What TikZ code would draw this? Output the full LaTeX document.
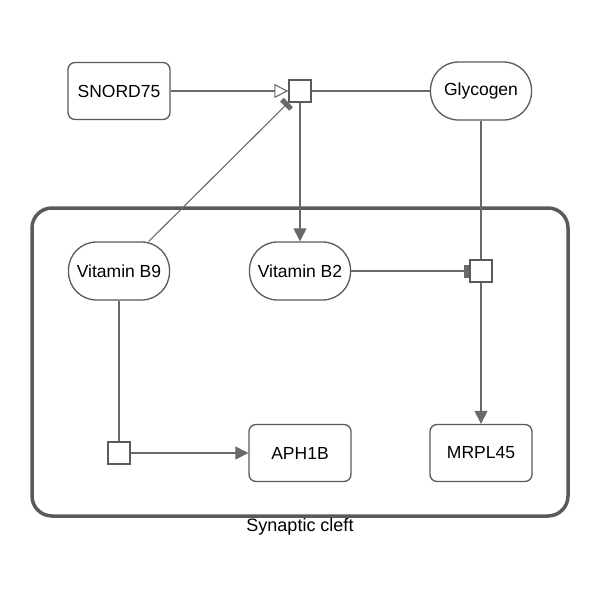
\documentclass[tikz,border=0pt]{standalone}
\usepackage{fontspec}
\setmainfont{Liberation Sans}
\usetikzlibrary{arrows.meta,positioning}
\definecolor{borde}{RGB}{90,90,90}
\definecolor{linea}{RGB}{105,105,105}
\tikzset{
  macro/.style={draw=borde, line width=1.3pt, rounded corners=7pt, fill=white, align=center, inner sep=0pt, minimum width=102pt, minimum height=57pt, font=\fontsize{17.5}{20}\selectfont},
  chem/.style={draw=borde, line width=1.3pt, rounded corners=28pt, fill=white, align=center, inner sep=0pt, minimum width=101pt, minimum height=58pt, font=\fontsize{17.5}{20}\selectfont},
  proc/.style={draw=borde, line width=1.3pt, fill=white, inner sep=0pt, minimum size=22pt},
  comp/.style={draw=borde, line width=3.5pt, rounded corners=20pt, inner sep=0pt},
  et/.style={font=\fontsize{18}{20}\selectfont, inner sep=0pt},
  cons/.style={draw=linea, line width=1.1pt},
  prod/.style={cons, -{Triangle[length=13pt, width=13pt]}, fill=linea},
  stim/.style={cons, -{Triangle[open, length=14pt, width=14pt, fill=white]}},
  inh/.style={cons, -{Rectangle[length=5pt, width=13pt]}},
}
\begin{document}
\begin{tikzpicture}[x=1pt,y=-1pt]
  \useasboundingbox (0,0) rectangle (600,600);
  % compartment
  \node[comp, minimum width=536pt, minimum height=308pt] (cleft) at (300,362) {};
  \node[et] (cleftlbl) at (300,527) {Synaptic cleft};
  % entities
  \node[macro] (snord) at (119,91) {SNORD75};
  \node[chem] (glyc) at (481,91) {Glycogen};
  \node[proc] (pa) at (300,91) {};
  \node[chem] (vbn) at (119,271) {Vitamin B9};
  \node[chem] (vbt) at (300,271) {Vitamin B2};
  \node[proc] (pb) at (481,271) {};
  \node[proc] (pc) at (119,453) {};
  \node[macro] (aph) at (300,453) {APH1B};
  \node[macro] (mrpl) at (481,453) {MRPL45};
  % arcs
  \draw[stim] (snord) -- (pa);
  \draw[cons] (pa) -- (glyc);
  \draw[prod] (pa) -- (vbt);
  \draw[inh] (vbn) -- (pa);
  \draw[inh] (vbt) -- (pb);
  \draw[cons] (glyc) -- (pb);
  \draw[prod] (pb) -- (mrpl);
  \draw[cons] (vbn) -- (pc);
  \draw[prod] (pc) -- (aph);
\end{tikzpicture}
\end{document}
